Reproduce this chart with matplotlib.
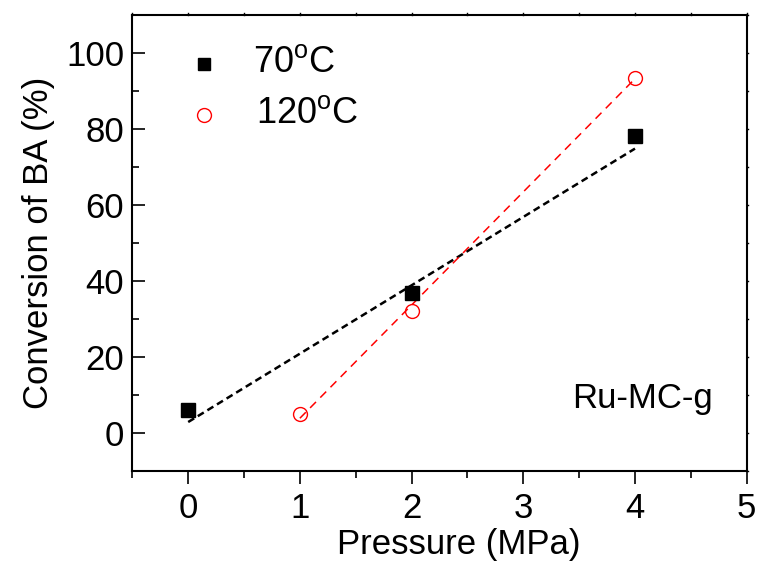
import numpy as np
import matplotlib.pyplot as plt
from matplotlib.ticker import MultipleLocator

plt.rcParams['font.family'] = ['Liberation Sans', 'DejaVu Sans']
plt.rcParams['mathtext.fontset'] = 'custom'
plt.rcParams['mathtext.rm'] = 'Liberation Sans'

# data
p_70 = [0, 2, 4]
conv_70 = [6.1, 37.0, 78.3]
p_120 = [1, 2, 4]
conv_120 = [5.0, 32.2, 93.6]

# fitted lines as drawn in the picture (slope, intercept)
fit_70 = (18.0, 2.9)
fit_120 = (29.8, -25.9)

fig = plt.figure(figsize=(7.61, 5.71), dpi=100)
ax = fig.add_axes([0.1739, 0.1751, 0.8073, 0.7981])

for x, (k, b), c, lw, dash in [(p_70, fit_70, 'black', 1.8, (2.8, 1.7)),
                               (p_120, fit_120, 'red', 1.1, (5.5, 4.0))]:
    xx = np.array([min(x), max(x)])
    ax.plot(xx, k * xx + b, color=c, lw=lw, dashes=dash, zorder=2)

ax.plot(p_70, conv_70, 's', color='black', ms=9.5, zorder=3)
ax.plot(p_120, conv_120, 'o', mfc='none', mec='red', mew=1.0, ms=10, zorder=3)

# legend drawn like Origin
ax.plot([0.14], [97.2], 's', color='black', ms=9)
ax.plot([0.14], [83.8], 'o', mfc='none', mec='red', mew=1.0, ms=10)
ax.text(0.58, 97.6, r'70$^{\rm o}$C', fontsize=26, va='center', ha='left')
ax.text(0.61, 84.2, r'120$^{\rm o}$C', fontsize=26, va='center', ha='left')
ax.text(4.70, 6.7, 'Ru-MC-g', fontsize=25, ha='right', va='baseline')

ax.set_xlim(-0.5, 5)
ax.set_ylim(-10, 110)
ax.xaxis.set_major_locator(MultipleLocator(1))
ax.xaxis.set_minor_locator(MultipleLocator(0.5))
ax.set_yticks(np.arange(0, 101, 20))
ax.yaxis.set_minor_locator(MultipleLocator(10))

ax.tick_params(axis='x', which='major', direction='out', length=9, width=1.2,
               labelsize=25, pad=6, top=False)
ax.tick_params(axis='x', which='minor', direction='out', length=5, width=1.2, top=False)
ax.tick_params(axis='y', which='major', direction='in', length=9, width=1.2,
               labelsize=25, pad=6, right=False)
ax.tick_params(axis='y', which='minor', direction='in', length=5, width=1.2, right=False)

# tiny ticks on top and right
for pos in np.arange(-0.5, 5.01, 0.5):
    ax.plot([pos, pos], [110, 110.6], color='black', lw=1.0, clip_on=False)
for pos in np.arange(-10, 110.1, 10):
    ax.plot([5, 5.015], [pos, pos], color='black', lw=1.0, clip_on=False)

for s in ax.spines.values():
    s.set_linewidth(1.5)

ax.set_xlabel('Pressure (MPa)', fontsize=25)
ax.xaxis.set_label_coords(0.531, -0.125)
ax.set_ylabel('Conversion of BA (%)', fontsize=25, labelpad=8)

fig.savefig('out.png', dpi=100)
